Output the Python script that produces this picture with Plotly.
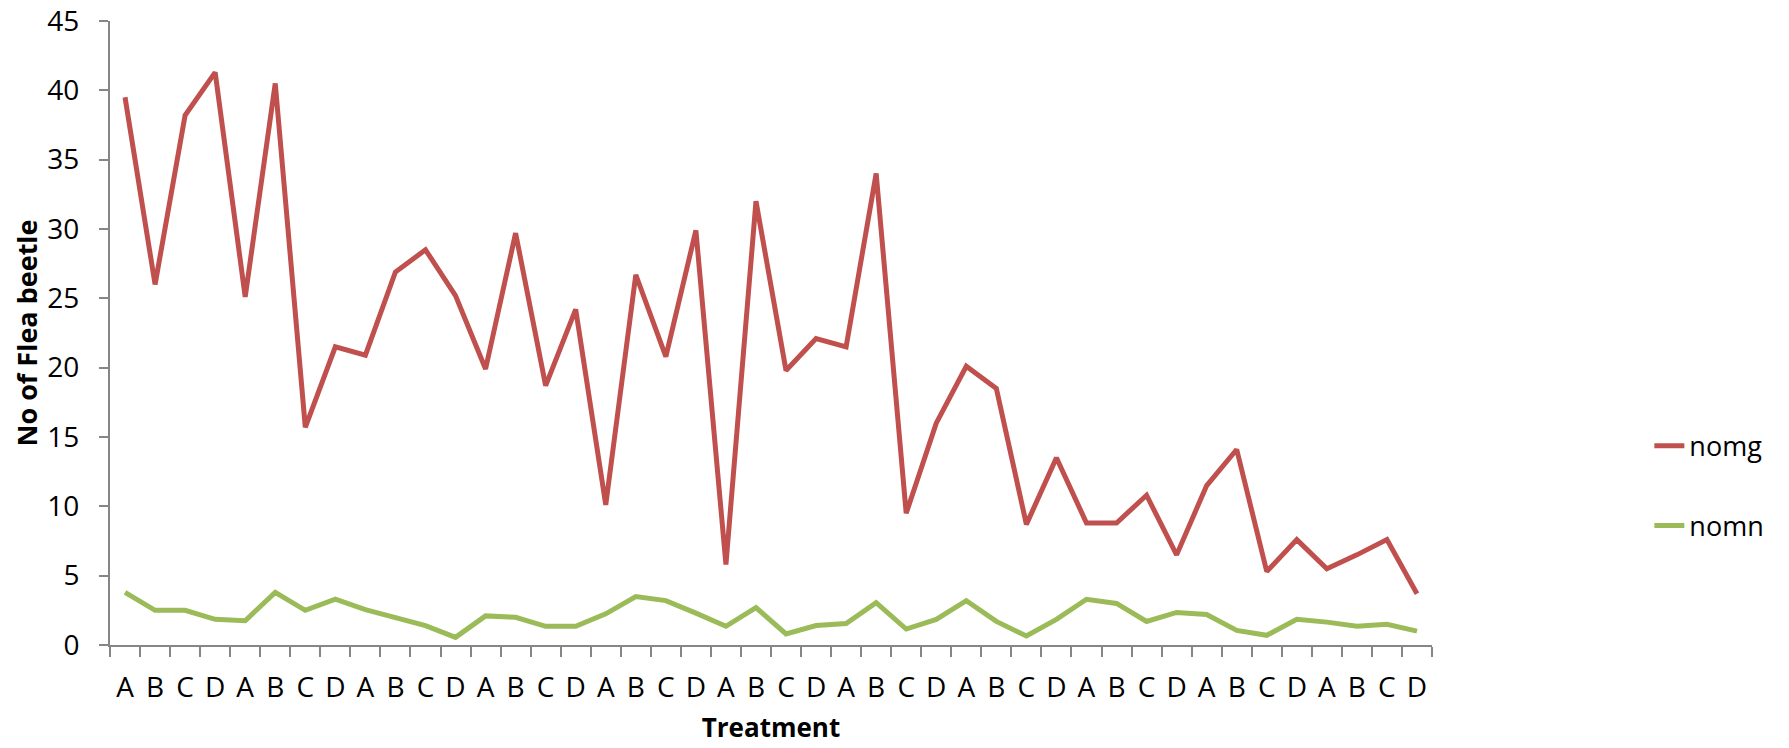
import plotly.graph_objects as go

treatments = ["A", "B", "C", "D"] * 11
nomg = [39.5, 26.0, 38.2, 41.3, 25.1, 40.5, 15.7, 21.5, 20.9, 26.9, 28.5, 25.2,
        19.9, 29.7, 18.7, 24.2, 10.1, 26.7, 20.8, 29.9, 5.8, 32.0, 19.8, 22.1,
        21.5, 34.0, 9.5, 16.0, 20.1, 18.5, 8.7, 13.5, 8.8, 8.8, 10.8, 6.5,
        11.5, 14.1, 5.3, 7.6, 5.5, 6.5, 7.6, 3.7]
nomn = [3.8, 2.5, 2.5, 1.85, 1.75, 3.8, 2.5, 3.3, 2.55, 2.0, 1.4, 0.55,
        2.1, 2.0, 1.35, 1.35, 2.25, 3.5, 3.2, 2.3, 1.35, 2.7, 0.8, 1.4,
        1.55, 3.05, 1.15, 1.85, 3.2, 1.7, 0.65, 1.85, 3.3, 3.0, 1.7, 2.35,
        2.2, 1.05, 0.7, 1.85, 1.65, 1.35, 1.5, 1.0]
y_ticks = [0, 5, 10, 15, 20, 25, 30, 35, 40, 45]

idx = list(range(len(treatments)))
boundaries = [i - 0.5 for i in range(len(treatments) + 1)]

FONT = "Open Sans"
AX = "#868686"

fig = go.Figure()
fig.add_trace(go.Scatter(x=idx, y=nomg, mode="lines", name="nomg",
                         line=dict(color="#C0504D", width=5), legend="legend"))
fig.add_trace(go.Scatter(x=idx, y=nomn, mode="lines", name="nomn",
                         line=dict(color="#9BBB59", width=5), legend="legend2"))

leg_common = dict(font=dict(family=FONT, size=27, color="#000000"),
                  bgcolor="rgba(0,0,0,0)", xanchor="left", yanchor="middle",
                  xref="container", yref="container", x=0.9216)
fig.update_layout(
    width=1781, height=740,
    margin=dict(l=102, r=357, t=13, b=103),
    paper_bgcolor="white", plot_bgcolor="white",
    font=dict(family=FONT, color="#000000"),
    showlegend=True,
    legend=dict(y=0.408, **leg_common),
    legend2=dict(y=0.300, **leg_common),
    xaxis=dict(
        automargin=False,
        ticklabeloverflow="allow",
        range=[-0.5, len(treatments) - 0.5],
        tickmode="array", tickvals=idx, ticktext=treatments,
        ticks="outside", ticklen=10, tickcolor="rgba(0,0,0,0)",
        ticklabelstandoff=6,
        tickfont=dict(family=FONT, size=28, color="#000000"),
        minor=dict(tickmode="array", tickvals=boundaries, ticks="outside",
                   ticklen=10, tickwidth=2, tickcolor=AX),
        showline=True, linecolor=AX, linewidth=2,
        showgrid=False, zeroline=False,
        title=dict(text="<b>Treatment</b>", standoff=15,
                   font=dict(family=FONT, size=26, color="#000000")),
    ),
    yaxis=dict(
        automargin=False,
        ticklabeloverflow="allow",
        range=[0, 45], tickmode="array", tickvals=y_ticks,
        ticks="outside", ticklen=9, tickwidth=2, tickcolor=AX,
        ticklabelstandoff=14,
        tickfont=dict(family=FONT, size=28, color="#000000"),
        showline=True, linecolor=AX, linewidth=2,
        showgrid=False, zeroline=False,
        title=dict(text="<b>No of Flea beetle</b>", standoff=2,
                   font=dict(family=FONT, size=27, color="#000000")),
    ),
)

fig.write_html("out.html")
